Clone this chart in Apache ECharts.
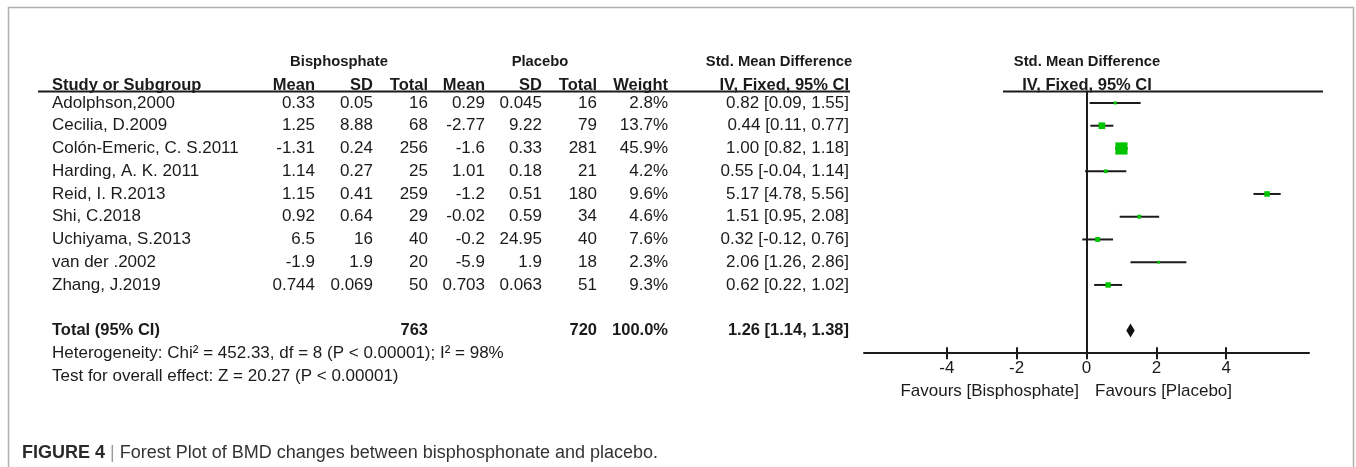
<!DOCTYPE html>
<html>
<head>
<meta charset="utf-8">
<script src="https://cdn.jsdelivr.net/npm/echarts@6/dist/echarts.min.js"></script>
<style>
  html, body { margin: 0; padding: 0; background: #fff; }
  #chart { width: 1356px; height: 467px; }
</style>
</head>
<body>
<div id="chart"></div>
<script>
// Study-level data (bisphosphonate vs placebo, BMD change)
const studies = ['Adolphson,2000', 'Cecilia, D.2009', 'Colón-Emeric, C. S.2011', 'Harding, A. K. 2011',
  'Reid, I. R.2013', 'Shi, C.2018', 'Uchiyama, S.2013', 'van der .2002', 'Zhang, J.2019'];
const bisMean = [0.33, 1.25, -1.31, 1.14, 1.15, 0.92, 6.5, -1.9, 0.744];
const bisSD = [0.05, 8.88, 0.24, 0.27, 0.41, 0.64, 16, 1.9, 0.069];
const bisN = [16, 68, 256, 25, 259, 29, 40, 20, 50];
const plaMean = [0.29, -2.77, -1.6, 1.01, -1.2, -0.02, -0.2, -5.9, 0.703];
const plaSD = [0.045, 9.22, 0.33, 0.18, 0.51, 0.59, 24.95, 1.9, 0.063];
const plaN = [16, 79, 281, 21, 180, 34, 40, 18, 51];
const weight = [2.8, 13.7, 45.9, 4.2, 9.6, 4.6, 7.6, 2.3, 9.3];
const smd = [0.82, 0.44, 1.00, 0.55, 5.17, 1.51, 0.32, 2.06, 0.62];
const ciLow = [0.09, 0.11, 0.82, -0.04, 4.78, 0.95, -0.12, 1.26, 0.22];
const ciHigh = [1.55, 0.77, 1.18, 1.14, 5.56, 2.08, 0.76, 2.86, 1.02];

// Pooled result
const totalLabel = 'Total (95% CI)';
const totalBisN = 763;
const totalPlaN = 720;
const totalWeight = 100.0;
const totalSmd = 1.26;
const totalLow = 1.14;
const totalHigh = 1.38;
const heterogeneityText = 'Heterogeneity: Chi² = 452.33, df = 8 (P < 0.00001); I² = 98%';
const overallText = 'Test for overall effect: Z = 20.27 (P < 0.00001)';

// Axis ticks and side labels
const xTicks = [-4, -2, 0, 2, 4];
const favoursLeft = 'Favours [Bisphosphate]';
const favoursRight = 'Favours [Placebo]';

const FONT = '"Liberation Sans", Arial, sans-serif';
const INK = '#1b1b1b';
const REG = 17;
const BOLD = 16.5;
const GROUP = 14.8;
// rows: 0..8 studies, 9 blank, 10 pooled, 11/12 summary notes
const TOTAL_ROW = 10;
const HET_ROW = 11;
const TEST_ROW = 12;

const fmt2 = v => v.toFixed(2);

// column right edges of the table (px)
const col = { bisMean: 315, bisSD: 373, bisN: 428, plaMean: 485, plaSD: 542, plaN: 597, weight: 668, ci: 849 };

function txt(text, x, y, align, bold, size) {
  return {
    type: 'text',
    style: {
      text: String(text), x: x, y: y, align: align, verticalAlign: 'middle',
      fontFamily: FONT, fontSize: size || (bold ? BOLD : REG),
      fontWeight: bold ? 'bold' : 'normal', fill: INK
    }
  };
}

function label(text, x, y, align, size, bold) {
  return { type: 'text', silent: true, style: { text: text, x: x, y: y, align: align, verticalAlign: 'middle',
    fontFamily: FONT, fontSize: size, fontWeight: bold ? 'bold' : 'normal', fill: INK } };
}

const rows = studies.map((s, i) => [i]);

const chart = echarts.init(document.getElementById('chart'), null, { renderer: 'canvas', width: 1356, height: 467 });

const HEAD_Y = 85;

chart.setOption({
  backgroundColor: '#ffffff',
  animation: false,
  grid: { left: 864, right: 47, top: 91.6, bottom: 113.8, containLabel: false },
  xAxis: [
    {
      type: 'value', min: -6.37, max: 6.37, position: 'bottom',
      axisLine: { onZero: false, lineStyle: { color: INK, width: 2 } },
      axisTick: { customValues: xTicks, length: 6, lineStyle: { color: INK, width: 2 } },
      axisLabel: { customValues: xTicks, margin: 7, fontSize: REG, fontFamily: FONT, color: INK },
      splitLine: { show: false }
    },
    {
      type: 'value', min: -6.37, max: 6.37, position: 'bottom',
      axisLine: { show: false, onZero: false },
      axisTick: { customValues: xTicks, inside: true, length: 6, lineStyle: { color: INK, width: 2 } },
      axisLabel: { show: false },
      splitLine: { show: false }
    }
  ],
  yAxis: {
    type: 'value', inverse: true, min: -0.5, max: 11,
    axisLine: { show: true, onZero: true, lineStyle: { color: INK, width: 2 } },
    axisTick: { show: false }, axisLabel: { show: false }, splitLine: { show: false }
  },
  graphic: [
    // outer frame
    { type: 'polyline', silent: true, shape: { points: [[8.5, 480], [8.5, 7.5], [1353.5, 7.5], [1353.5, 480]] },
      style: { stroke: '#b0b0b0', lineWidth: 1.5, fill: 'none' } },
    // header group titles
    label('Bisphosphate', 339, 62, 'center', GROUP, true),
    label('Placebo', 540, 62, 'center', GROUP, true),
    label('Std. Mean Difference', 779, 62, 'center', GROUP, true),
    label('Std. Mean Difference', 1087, 62, 'center', GROUP, true),
    // column headers
    label('Study or Subgroup', 52, HEAD_Y, 'left', BOLD, true),
    label('Mean', col.bisMean, HEAD_Y, 'right', BOLD, true),
    label('SD', col.bisSD, HEAD_Y, 'right', BOLD, true),
    label('Total', col.bisN, HEAD_Y, 'right', BOLD, true),
    label('Mean', col.plaMean, HEAD_Y, 'right', BOLD, true),
    label('SD', col.plaSD, HEAD_Y, 'right', BOLD, true),
    label('Total', col.plaN, HEAD_Y, 'right', BOLD, true),
    label('Weight', col.weight, HEAD_Y, 'right', BOLD, true),
    label('IV, Fixed, 95% CI', col.ci, HEAD_Y, 'right', BOLD, true),
    label('IV, Fixed, 95% CI', 1087, HEAD_Y, 'center', BOLD, true),
    // header rules
    { type: 'line', silent: true, shape: { x1: 38, y1: 91.5, x2: 850, y2: 91.5 }, style: { stroke: INK, lineWidth: 2 } },
    { type: 'line', silent: true, shape: { x1: 1003, y1: 91.5, x2: 1323, y2: 91.5 }, style: { stroke: INK, lineWidth: 2 } },
    // favours labels
    label(favoursLeft, 1079, 391, 'right', REG, false),
    label(favoursRight, 1095, 391, 'left', REG, false),
    // caption
    { type: 'text', silent: true, style: {
        text: '{b|FIGURE 4} {s||} Forest Plot of BMD changes between bisphosphonate and placebo.',
        x: 22, y: 453, align: 'left', verticalAlign: 'middle', fontFamily: FONT, fontSize: 18, fill: '#333',
        rich: {
          b: { fontFamily: FONT, fontSize: 18, fontWeight: 'bold', fill: '#2a2a2a' },
          s: { fontFamily: FONT, fontSize: 18, fill: '#9a9a9a' }
        }
      } }
  ],
  series: [
    {
      // table rows: study names, summary statistics, pooled row and notes
      type: 'custom', name: 'table', clip: false, silent: true,
      data: rows.concat([[TOTAL_ROW], [HET_ROW], [TEST_ROW]]),
      encode: { y: 0 },
      renderItem: function (params, api) {
        const i = api.value(0);
        const y = api.coord([0, i])[1];
        if (i === HET_ROW) return txt(heterogeneityText, 52, y, 'left', false);
        if (i === TEST_ROW) return txt(overallText, 52, y, 'left', false);
        if (i === TOTAL_ROW) {
          return {
            type: 'group', children: [
              txt(totalLabel, 52, y, 'left', true),
              txt(totalBisN, col.bisN, y, 'right', true),
              txt(totalPlaN, col.plaN, y, 'right', true),
              txt(totalWeight.toFixed(1) + '%', col.weight, y, 'right', true),
              txt(fmt2(totalSmd) + ' [' + fmt2(totalLow) + ', ' + fmt2(totalHigh) + ']', col.ci, y, 'right', true)
            ]
          };
        }
        return {
          type: 'group', children: [
            txt(studies[i], 52, y, 'left', false),
            txt(bisMean[i], col.bisMean, y, 'right', false),
            txt(bisSD[i], col.bisSD, y, 'right', false),
            txt(bisN[i], col.bisN, y, 'right', false),
            txt(plaMean[i], col.plaMean, y, 'right', false),
            txt(plaSD[i], col.plaSD, y, 'right', false),
            txt(plaN[i], col.plaN, y, 'right', false),
            txt(weight[i].toFixed(1) + '%', col.weight, y, 'right', false),
            txt(fmt2(smd[i]) + ' [' + fmt2(ciLow[i]) + ', ' + fmt2(ciHigh[i]) + ']', col.ci, y, 'right', false)
          ]
        };
      }
    },
    {
      // confidence intervals and weighted squares
      type: 'custom', name: 'studies', clip: false, silent: true,
      data: studies.map((s, i) => [ciLow[i], ciHigh[i], smd[i], weight[i], i]),
      encode: { x: [0, 1, 2], y: 4 },
      renderItem: function (params, api) {
        const lo = api.coord([api.value(0), api.value(4)]);
        const hi = api.coord([api.value(1), api.value(4)]);
        const c = api.coord([api.value(2), api.value(4)]);
        const s = 1.8 * Math.sqrt(api.value(3));
        return {
          type: 'group', children: [
            { type: 'line', shape: { x1: lo[0], y1: lo[1], x2: hi[0], y2: hi[1] }, style: { stroke: INK, lineWidth: 2 } },
            { type: 'rect', shape: { x: c[0] - s / 2, y: c[1] - s / 2, width: s, height: s }, style: { fill: '#00c400' } }
          ]
        };
      }
    },
    {
      // pooled estimate diamond
      type: 'custom', name: 'total', clip: false, silent: true,
      data: [[totalLow, totalHigh, totalSmd, TOTAL_ROW]],
      encode: { x: [0, 1, 2], y: 3 },
      renderItem: function (params, api) {
        const row = api.value(3);
        const lo = api.coord([api.value(0), row]);
        const hi = api.coord([api.value(1), row]);
        const c = api.coord([api.value(2), row]);
        const h = 7;
        return {
          type: 'polygon',
          shape: { points: [[lo[0], c[1]], [c[0], c[1] - h], [hi[0], c[1]], [c[0], c[1] + h]] },
          style: { fill: '#111' }
        };
      }
    }
  ]
});
</script>
</body>
</html>
